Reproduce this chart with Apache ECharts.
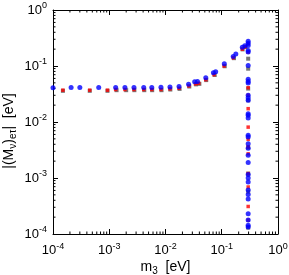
<!DOCTYPE html>
<html><head><meta charset="utf-8">
<script src="https://cdn.jsdelivr.net/npm/echarts@6/dist/echarts.min.js"></script>
<style>html,body{margin:0;padding:0;background:#fff}#c{width:289px;height:275px}</style>
</head><body><div id="c"></div>
<script>
const xTicks = [1e-4, 1e-3, 1e-2, 1e-1, 1];
const yTicks = [1e-4, 1e-3, 1e-2, 1e-1, 1];
const mVert = 0.295;

const blueX = [1e-4, 2.1e-4, 3.0e-4, 6.5e-4, 1.3e-3, 1.9e-3, 2.75e-3, 4.1e-3, 5.7e-3, 8.3e-3, 1.2e-2, 1.74e-2, 2.57e-2, 3.3e-2, 3.7e-2, 5.2e-2, 7.1e-2, 7.8e-2, 0.111, 0.160, 0.178, 0.232, 0.257];
const blueY = [0.041, 0.0412, 0.0412, 0.0412, 0.0412, 0.0413, 0.0414, 0.0415, 0.0415, 0.0416, 0.042, 0.043, 0.047, 0.0525, 0.053, 0.062, 0.076, 0.079, 0.11, 0.148, 0.163, 0.217, 0.23];
const blueVertY = [0.278, 0.256, 0.233, 0.19, 0.177, 0.1026, 0.0577, 0.0531, 0.0496, 0.0299, 0.0272, 0.0244, 0.0141, 0.0132, 0.0118, 0.0058, 0.0054, 0.0041, 0.0034, 0.00255, 0.00189, 0.00115, 0.001, 0.00085, 0.00061, 0.00051, 0.00042, 0.00023, 0.000177, 0.000144, 0.000134];

const redX = [1.5e-4, 4.5e-4, 9.3e-4, 1.3e-3, 1.9e-3, 2.75e-3, 4.1e-3, 5.7e-3, 8.3e-3, 1.2e-2, 1.74e-2, 2.6e-2, 3.4e-2, 3.9e-2, 5.2e-2, 7.3e-2, 0.11, 0.16, 0.232, 0.26];
const redY = [0.037, 0.037, 0.037, 0.038, 0.038, 0.038, 0.038, 0.038, 0.038, 0.039, 0.040, 0.044, 0.048, 0.049, 0.057, 0.070, 0.10, 0.14, 0.20, 0.22];
const redVertY = [0.25, 0.177, 0.041, 0.030, 0.0173, 0.0081, 0.0049, 0.0036, 0.0027, 0.0012, 0.00069, 0.00031, 0.000177];

const grayX = [1.5e-4, 4.5e-4, 9.3e-4, 1.35e-3, 2.0e-3, 2.8e-3, 4.2e-3, 5.8e-3, 8.5e-3, 1.22e-2, 1.78e-2, 2.65e-2, 3.5e-2, 4.0e-2, 5.3e-2, 7.5e-2, 0.113, 0.165, 0.235, 0.265];
const grayY = [0.036, 0.036, 0.036, 0.037, 0.037, 0.037, 0.037, 0.037, 0.037, 0.038, 0.039, 0.043, 0.047, 0.048, 0.056, 0.069, 0.099, 0.138, 0.198, 0.218];
const grayVertY = [0.135, 0.0895, 0.0395, 0.0244, 0.0035, 0.0012, 0.00057, 0.00013];

function pts(xs, ys, vx, vys) {
  const out = xs.map((x, i) => [x, ys[i]]);
  vys.forEach(y => out.push([vx, y]));
  return out;
}
// minor tick positions (2..9 x 10^k) between major ticks
const minorVals = [];
for (let k = 0; k < xTicks.length - 1; k++) {
  for (let m = 2; m <= 9; m++) minorVals.push(xTicks[k] * m);
}

const font = 'Liberation Sans';
const supFmt = v => '10{s|' + Math.round(Math.log10(v)) + '}';
const labelRich = { s: { fontSize: 9, verticalAlign: 'top', padding: [0, 0, 8, 0], fontFamily: font, color: '#000' } };

function axisBase(pos, show) {
  return {
    type: 'log', logBase: 10, min: 1e-4, max: 1, position: pos,
    axisLine: { show: true, lineStyle: { color: '#000', width: 1 } },
    axisTick: { show: true, inside: true, length: 5, lineStyle: { color: '#000' } },
    minorTick: { show: false },
    splitLine: { show: false },
    axisLabel: { show: show, formatter: supFmt, rich: labelRich, fontFamily: font, fontSize: 13, color: '#000' }
  };
}
const subRich = { sub: { fontSize: 10, verticalAlign: 'bottom', padding: [7, 0, 0, 0], fontFamily: font, color: '#000' } };
const xa = Object.assign(axisBase('bottom', true), {
  name: 'm{sub|3}  [eV]', nameLocation: 'middle', nameGap: 25, nameMoveOverlap: false,
  nameTextStyle: { fontFamily: font, fontSize: 14, color: '#000', rich: subRich }
});
xa.axisLabel.margin = 8;
const xa2 = axisBase('top', false);
const ya = Object.assign(axisBase('left', true), {
  name: '|(M{sub|ν}){sub|eτ}|  [eV]{gap|}', nameLocation: 'middle', nameGap: 35, nameRotate: 90, nameMoveOverlap: false,
  nameTextStyle: { fontFamily: font, fontSize: 14, color: '#000', rich: Object.assign({ gap: { width: 18 } }, subRich) }
});
ya.axisLabel.margin = 6;
const ya2 = axisBase('right', false);

function minorTickItem(params, api) {
  const v = api.value(0);
  const L = 2.5;
  const b = api.coord([v, 1e-4]);
  const t = api.coord([v, 1]);
  const l = api.coord([1e-4, v]);
  const r = api.coord([1, v]);
  const st = { stroke: '#000', lineWidth: 1 };
  return { type: 'group', children: [
    { type: 'line', shape: { x1: b[0], y1: b[1], x2: b[0], y2: b[1] - L }, style: st },
    { type: 'line', shape: { x1: t[0], y1: t[1], x2: t[0], y2: t[1] + L }, style: st },
    { type: 'line', shape: { x1: l[0], y1: l[1], x2: l[0] + L, y2: l[1] }, style: st },
    { type: 'line', shape: { x1: r[0], y1: r[1], x2: r[0] - L, y2: r[1] }, style: st }
  ]};
}

const chart = echarts.init(document.getElementById('c'), null, { renderer: 'canvas' });
chart.setOption({
  animation: false,
  grid: { left: 53, right: 11, top: 10, bottom: 41, containLabel: false, outerBoundsMode: 'none' },
  xAxis: [xa, xa2],
  yAxis: [ya, ya2],
  series: [
    { type: 'custom', renderItem: minorTickItem, data: minorVals.map(v => [v]), silent: true, z: 1, clip: false },
    { type: 'scatter', data: pts(grayX, grayY, mVert, grayVertY), symbol: 'rect', symbolSize: 4, itemStyle: { color: '#555' }, z: 2 },
    { type: 'scatter', data: pts(redX, redY, mVert, redVertY), symbol: 'rect', symbolSize: 3.5, itemStyle: { color: '#ff0000' }, z: 3 },
    { type: 'scatter', data: pts(blueX, blueY, mVert, blueVertY), symbol: 'circle', symbolSize: 5, itemStyle: { color: '#0000ff' }, z: 4 }
  ]
});
</script></body></html>
